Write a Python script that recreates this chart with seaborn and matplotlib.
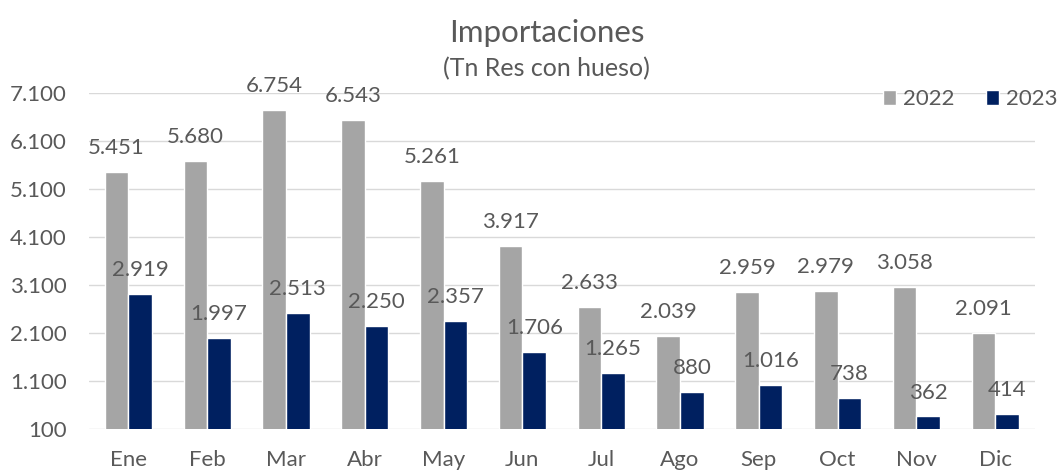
import seaborn as sns
import pandas as pd
import matplotlib.pyplot as plt

# Monthly imports (Tn Res con hueso)
months = ["Ene", "Feb", "Mar", "Abr", "May", "Jun", "Jul", "Ago", "Sep", "Oct", "Nov", "Dic"]
vals_2022 = [5451, 5680, 6754, 6543, 5261, 3917, 2633, 2039, 2959, 2979, 3058, 2091]
vals_2023 = [2919, 1997, 2513, 2250, 2357, 1706, 1265, 880, 1016, 738, 362, 414]
years = ["2022", "2023"]
y_ticks = [100, 1100, 2100, 3100, 4100, 5100, 6100, 7100]

df = pd.DataFrame({"Mes": months * 2,
                   "Año": [years[0]] * 12 + [years[1]] * 12,
                   "Valor": vals_2022 + vals_2023})

def miles(v):
    return f"{v:,.0f}".replace(",", ".")

sns.set_theme(style="white")
plt.rcParams["font.family"] = ["Lato", "DejaVu Sans"]
txt = "#595959"

fig = plt.figure(figsize=(10.59, 4.74), dpi=100)
ax = fig.add_axes([0.084, 0.095, 0.893, 0.709])

sns.barplot(data=df, x="Mes", y="Valor", hue="Año", palette=["#A5A5A5", "#002060"],
            width=0.6, ax=ax, legend=True, saturation=1)

for cont in ax.containers:
    ax.bar_label(cont, labels=[miles(b.get_height()) for b in cont], padding=10,
                 fontsize=16, color=txt)

ax.set_ylim(100, 7100)
ax.set_yticks(y_ticks)
ax.set_yticklabels([miles(v) for v in y_ticks])
ax.set_xlim(-0.5, 11.5)
ax.yaxis.grid(True, color="#D9D9D9", linewidth=1)
ax.set_axisbelow(True)
sns.despine(ax=ax, left=True, bottom=True)
ax.tick_params(axis="y", length=0, pad=16, labelsize=16, labelcolor=txt)
ax.tick_params(axis="x", length=0, pad=15, labelsize=16, labelcolor=txt)
ax.set_xlabel("")
ax.set_ylabel("")

ax.legend(loc="upper right", bbox_to_anchor=(1.045, 1.07), ncol=2, frameon=False,
          fontsize=16, labelcolor=txt, handlelength=0.6, handleheight=0.6,
          handletextpad=0.3, columnspacing=1.4)

fig.text(0.516, 0.93, "Importaciones", ha="center", va="center", fontsize=22.5, color=txt)
fig.text(0.516, 0.856, "(Tn Res con hueso)", ha="center", va="center", fontsize=18, color=txt)

fig.savefig("out.png", dpi=100)
